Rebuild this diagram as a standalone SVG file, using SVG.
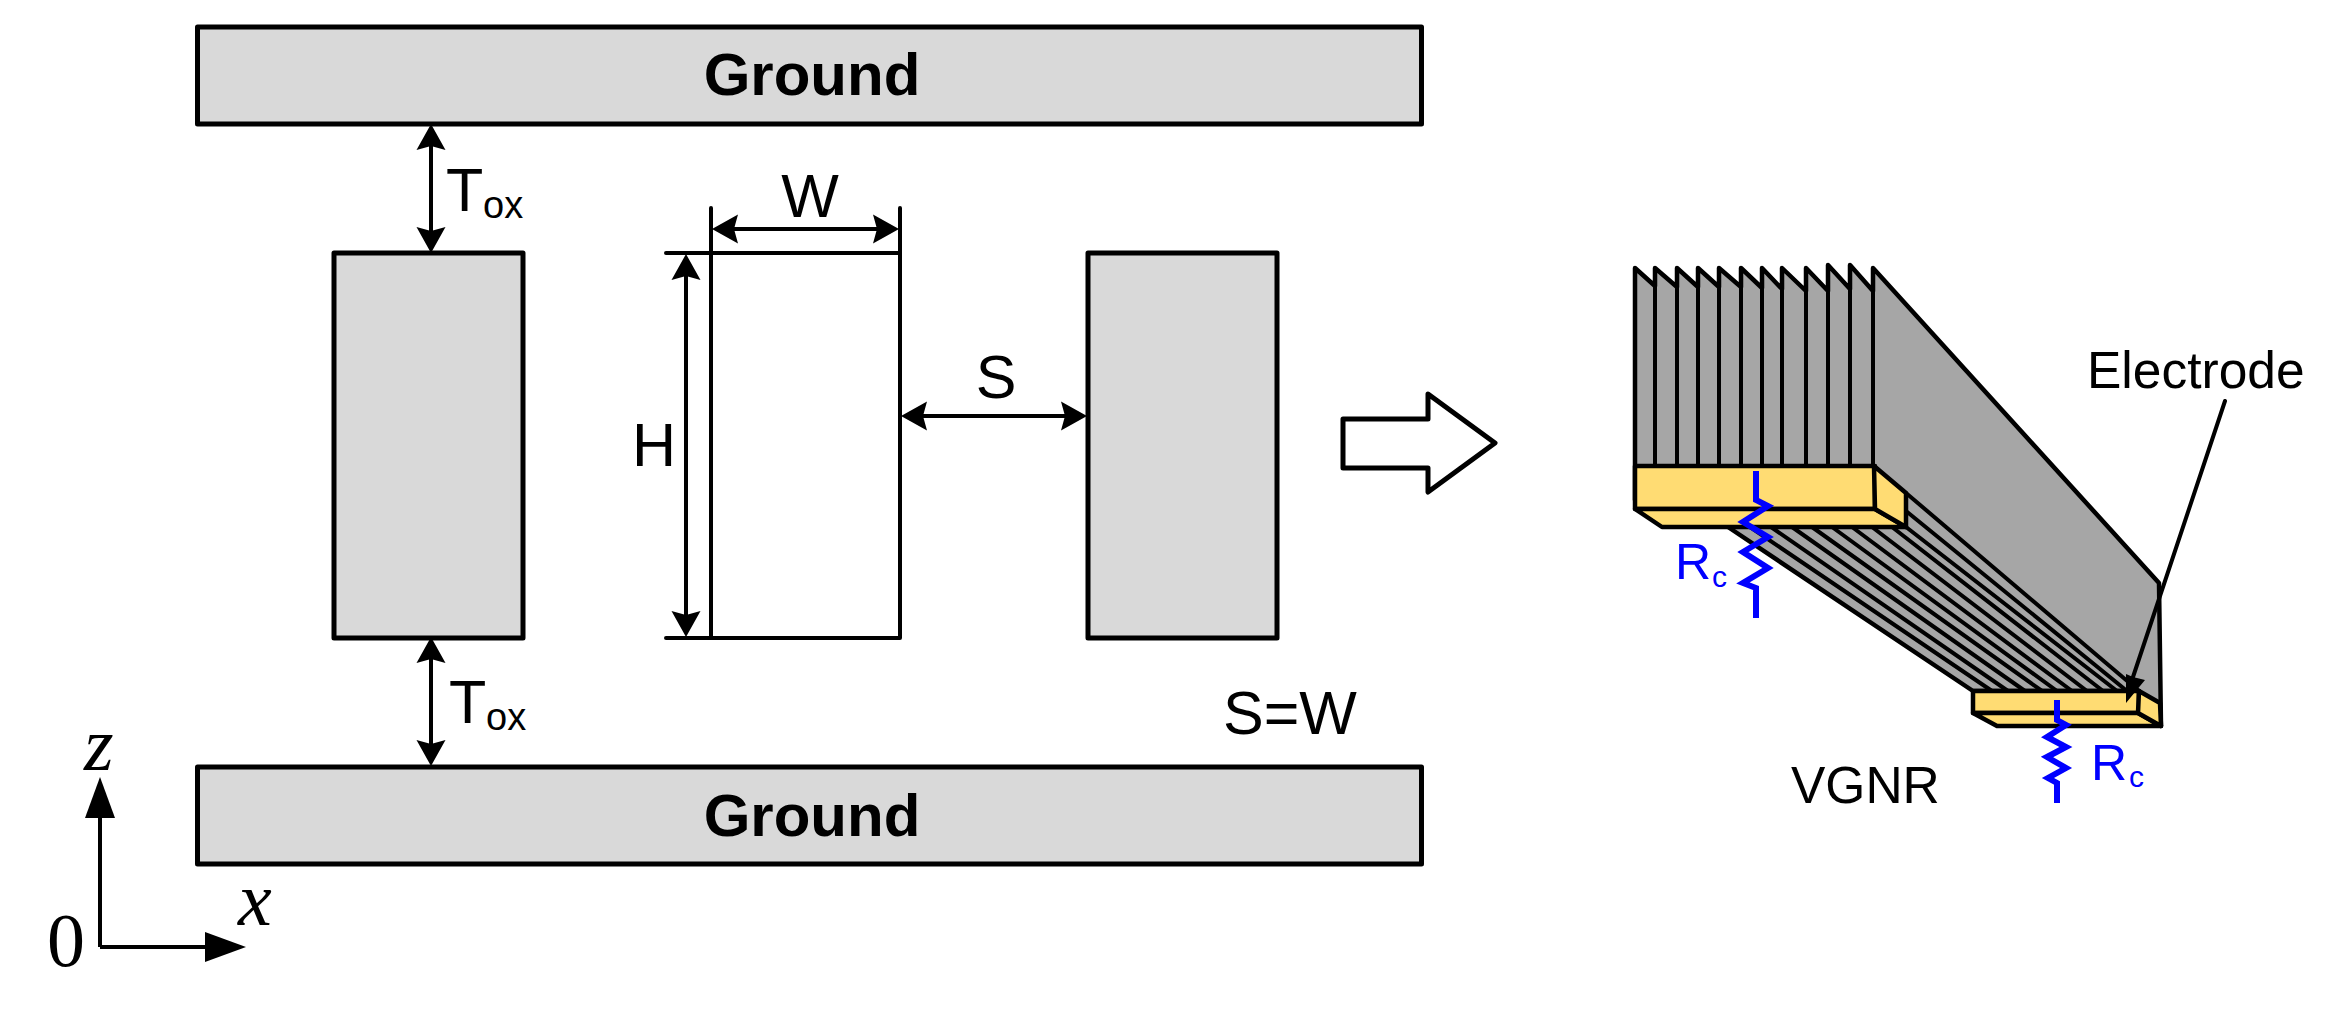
<svg xmlns="http://www.w3.org/2000/svg" width="2327" height="1013" viewBox="0 0 2327 1013">
<style>
text{font-family:"Liberation Sans",Arial,sans-serif;fill:#000;font-size:61px}
.bold{font-weight:bold;font-size:60px}
.sub{font-size:38px}
.serif{font-family:"Liberation Serif","Times New Roman",serif;font-size:76px}
.it{font-style:italic}
.box{fill:#d9d9d9;stroke:#000;stroke-width:5;stroke-linejoin:round}
.ln{fill:none;stroke:#000;stroke-width:4;stroke-linecap:round;stroke-linejoin:round}
.dim{fill:none;stroke:#000;stroke-width:4;marker-start:url(#dbl);marker-end:url(#dbl)}
.ax{fill:none;stroke:#000;stroke-width:4;marker-end:url(#flat)}
.gray{fill:#a6a6a6;stroke:#000;stroke-width:4.5;stroke-linejoin:round}
.fan{fill:none;stroke:#000;stroke-width:4}
.ye{fill:#ffdc73;stroke:#000;stroke-width:4.5;stroke-linejoin:round}
.res{fill:none;stroke:#00f;stroke-width:6}
.rc{fill:#00f;font-size:50px}
.rs{fill:#00f;font-size:30px}
.lbl{font-size:51.5px}
</style>
<defs>
<marker id="dbl" markerUnits="userSpaceOnUse" markerWidth="40" markerHeight="40" viewBox="0 -20 40 40" refX="16" refY="0" orient="auto-start-reverse"><path d="M26 0L0 -14.5L4 0L0 14.5Z" fill="#000"/></marker>
<marker id="flat" markerUnits="userSpaceOnUse" markerWidth="50" markerHeight="40" viewBox="0 -20 50 40" refX="30" refY="0" orient="auto"><path d="M41 0L0 -15V15Z" fill="#000"/></marker>
</defs>
<g id="ground-top"><rect class="box" x="197.500" y="27" width="1224" height="97"/><text class="bold" x="812" y="95" text-anchor="middle">Ground</text></g>
<g id="ground-bottom"><rect class="box" x="197.500" y="767" width="1224" height="97"/><text class="bold" x="812" y="836" text-anchor="middle">Ground</text></g>
<g id="left-block"><rect class="box" x="334" y="253" width="189" height="385"/></g>
<g id="right-block"><rect class="box" x="1088" y="253" width="189" height="385"/></g>
<g id="middle-block"><path class="ln" d="M711 208V638M900 208V638M666 253H900M666 638H900"/></g>
<g id="block-arrow"><path d="M1343 419H1428V394L1495 443L1428 492V468H1343Z" fill="#fff" stroke="#000" stroke-width="5" stroke-linejoin="round"/></g>
<g id="connectors">
<path class="dim" d="M431 134V243"/>
<path class="dim" d="M431 647V756"/>
<path class="dim" d="M686 264V627"/>
<path class="dim" d="M722 229H889"/>
<path class="dim" d="M911 416H1077"/>
<path class="ax" d="M100 947V788"/>
<path class="ax" d="M100 947H235"/>
</g>
<g id="labels">
<text x="446" y="211">T<tspan class="sub" x="483" y="218">ox</tspan></text>
<text x="449" y="723">T<tspan class="sub" x="486" y="730">ox</tspan></text>
<text x="810" y="217" text-anchor="middle">W</text>
<text x="632" y="466">H</text>
<text x="996" y="398" text-anchor="middle">S</text>
<text x="1223" y="734">S=W</text>
</g>
<g id="axes-labels">
<text class="serif it" x="84" y="770">z</text>
<text class="serif it" x="238" y="925">x</text>
<text class="serif" x="47" y="966">0</text>
</g>
<g id="vgnr">
<path class="gray" d="M1635 500V268L1655 286V268L1677 287V268L1698 287V268L1719 287V268L1741 287V268L1762 288V268L1782 289V268L1806 291V268L1828 291V265L1850 289V265L1873 291V268L2159 583L2161 726L2139 691L1973 691L1728 527V500Z"/>
<path class="fan" d="M1655 286V466M1677 287V466M1698 287V466M1719 287V466M1741 287V466M1762 288V466M1782 289V466M1806 291V466M1828 291V466M1850 289V466M1873 268V466"/>
<path class="fan" d="M1750 527L1992 691M1771 527L2008 691M1792 527L2025 691M1812 527L2042 691M1832 527L2057 691M1852 527L2072 691M1872 527L2087 691M1892 527L2103 691M1906 527L2117 691M1906 511L2127 691M1906 493L2139 691"/>
<path class="ye" d="M1635 466H1875V509H1635Z"/>
<path class="ye" d="M1635 509L1662 527H1906L1875 509Z"/>
<path class="ye" d="M1874 466L1906 493V527L1875 509Z"/>
<path class="ye" d="M1973 691H2139V713H1973Z"/>
<path class="ye" d="M1973 713L1997 726H2161L2138 713Z"/>
<path class="ye" d="M2139 691L2160 703L2161 726L2138 713Z"/>
<path d="M2225 401L2133 677" fill="none" stroke="#000" stroke-width="4" stroke-linecap="round"/>
<path d="M2126 703L2126 674L2133 677L2145 680Z" fill="#000"/>
<path class="res" d="M1756 471V500L1768 506L1743 522L1768 537L1743 552L1768 568L1743 583L1756 588V618"/>
<path class="res" d="M2057 700V720L2066 725L2047 737L2066 747L2047 757L2066 768L2048 778L2057 783V803"/>
<text class="rc" x="1675" y="579">R</text><text class="rs" x="1712" y="587">c</text>
<text class="rc" x="2091" y="780">R</text><text class="rs" x="2129" y="787">c</text>
<text class="lbl" x="1791" y="803">VGNR</text>
<text class="lbl" x="2087" y="388">Electrode</text>
</g>
</svg>
